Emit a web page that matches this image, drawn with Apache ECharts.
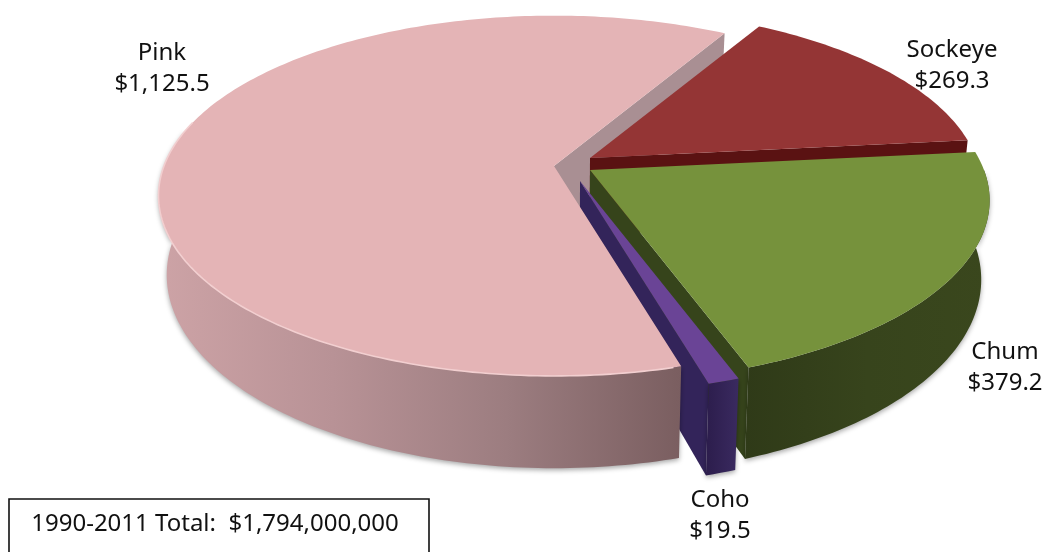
<!DOCTYPE html>
<html><head><meta charset="utf-8">
<style>html,body{margin:0;padding:0;background:#fff}#c{width:1047px;height:552px}</style>
<script src="https://cdn.jsdelivr.net/npm/echarts@6/dist/echarts.min.js"></script>
</head><body><div id="c"></div>
<script>
// Data (millions of dollars), clockwise from the first slice
const species = ['Sockeye', 'Chum', 'Coho', 'Pink'];
const values = [269.3, 379.2, 19.5, 1125.5];
const valueLabels = ['$269.3', '$379.2', '$19.5', '$1,125.5'];
const totalLabel = '1990-2011 Total:  $1,794,000,000';

// Projection / style settings
const firstAngle = 30, k = 0.167, A = 394, B = 177, D = 77, vanishX = 570, shrink = 0.98;
const apexX = [590, 590, 580, 554], apexY = [158, 170, 181, 166], radius = [0.98, 1, 1, 0.99];
const topColor = ['#943535', '#76923c', '#6a4496', '#e4b4b6'];
const edgeColor = ['#5a1212', '#36441b', '#33245a', '#a98f93'];
const labelX = [952, 1005, 720, 162], labelY = [66, 368, 516, 69];

const total = values.reduce((a, b) => a + b, 0);
let acc = firstAngle;
const sliceData = values.map((v, i) => {
  const sweep = v / total * 360;
  const row = { name: species[i], value: [acc, sweep, i] };
  acc += sweep;
  return row;
});

function topPoint(i, deg, r) {
  const t = deg * Math.PI / 180, u = Math.sin(t) * r, v = -Math.cos(t) * r, w = 1 - k * v;
  return { x: apexX[i] + A * u / w, y: apexY[i] + B * v / w, w };
}
function low(p) { return [vanishX + (p.x - vanishX) * shrink, p.y + D / p.w]; }
function arc(i, a0, a1) {
  const out = [], n = Math.max(2, Math.ceil(Math.abs(a1 - a0)));
  for (let j = 0; j <= n; j++) out.push(topPoint(i, a0 + (a1 - a0) * j / n, radius[i]));
  return out;
}
function poly(points, style) {
  return { type: 'polygon', shape: { points }, style };
}
function endWall(i, end) {
  const c = { x: apexX[i], y: apexY[i], w: 1 }, o = topPoint(i, end, radius[i]);
  return poly([[c.x, c.y], [o.x, o.y], low(o), low(c)], { fill: edgeColor[i] });
}
function grad(stops) {
  return new echarts.graphic.LinearGradient(0, 0, 1, 0, stops.map((c, j) => ({ offset: j / (stops.length - 1), color: c })));
}
const wallFill = [
  '#5a1212',
  grad(['#2f3a18', '#37441c', '#3a471d']),
  grad(['#2c1d4c', '#3a2a60']),
  grad(['#cda3a6', '#b89296', '#9c7d80', '#7a5e60'])
];

function renderBack(params, api) {
  const i = api.value(2);
  return endWall(i, api.value(0) + api.value(1));
}
function renderSlice(params, api) {
  const s = api.value(0), e = s + api.value(1), i = api.value(2), kids = [];
  if (i !== 3) kids.push(endWall(i, e));
  const a0 = Math.max(s, 90), a1 = Math.min(e, 282);
  if (a1 > a0) {
    const a = arc(i, a0, a1), pts = a.map(p => [p.x, p.y]).concat(a.slice().reverse().map(low));
    kids.push(poly(pts, { fill: wallFill[i], shadowBlur: 5, shadowColor: 'rgba(0,0,0,0.35)', shadowOffsetY: 2 }));
  }
  const c = [apexX[i], apexY[i]], rim = arc(i, s, e).map(p => [p.x, p.y]);
  kids.push(poly([c].concat(rim), { fill: topColor[i] }));
  if (i === 3) {
    kids.push({ type: 'polyline', shape: { points: arc(i, s + 1, 285).map(p => [p.x, p.y]) },
      style: { fill: null, stroke: '#f2cfd0', lineWidth: 1.6 } });
  }
  return { type: 'group', children: kids };
}

const font = '"Noto Sans", sans-serif';
const labels = species.map((n, i) => ({
  type: 'text', x: labelX[i], y: labelY[i],
  style: { text: n + '\n' + valueLabels[i], font: '24px ' + font, lineHeight: 31, fill: '#111',
           align: 'center', verticalAlign: 'middle' }, z: 10
}));
const box = [
  { type: 'polyline', shape: { points: [[9, 552], [9, 499], [429, 499], [429, 552]] },
    style: { fill: null, stroke: '#111', lineWidth: 1.6 }, z: 10 },
  { type: 'text', x: 215, y: 524, style: { text: totalLabel, font: '24px ' + font, fill: '#111',
      align: 'center', verticalAlign: 'middle' }, z: 10 }
];

const chart = echarts.init(document.getElementById('c'), null, { renderer: 'canvas' });
chart.setOption({
  animation: false,
  backgroundColor: '#fff',
  tooltip: { show: false },
  graphic: labels.concat(box),
  series: [
    { type: 'custom', coordinateSystem: 'none', z: 1, silent: true, renderItem: renderBack, data: [sliceData[3]] },
    { type: 'custom', coordinateSystem: 'none', z: 2, silent: true, renderItem: renderSlice, data: sliceData }
  ]
});
</script></body></html>
